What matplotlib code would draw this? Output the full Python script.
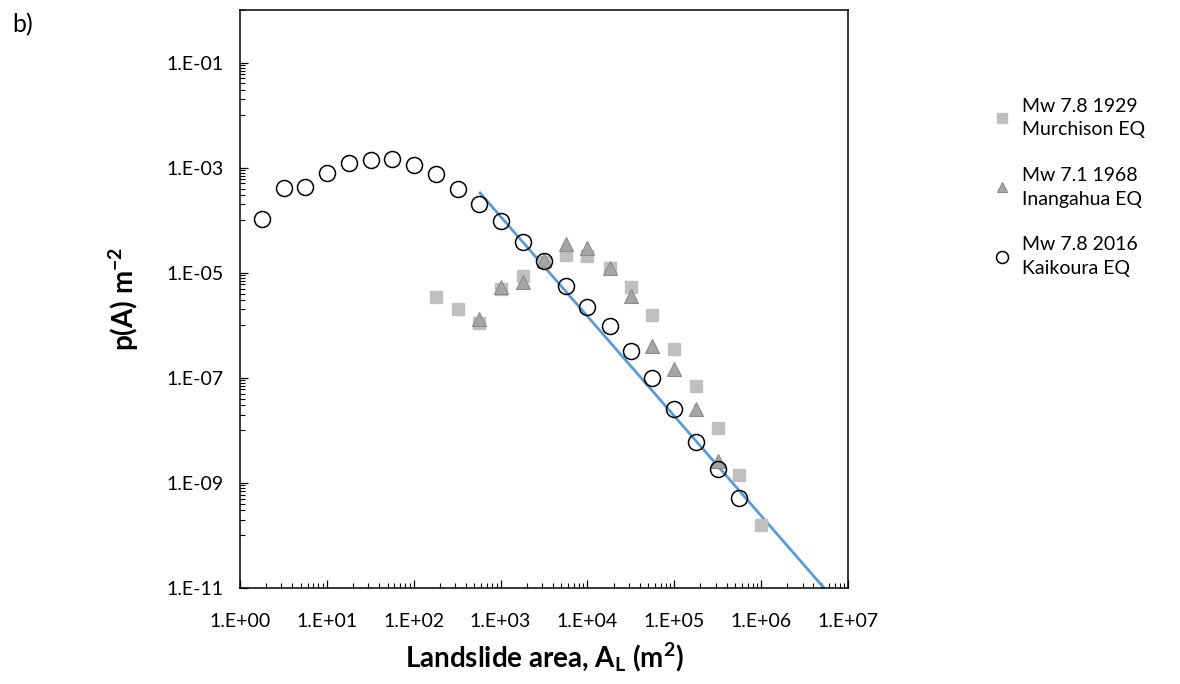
import matplotlib
matplotlib.use("Agg")
import matplotlib.pyplot as plt
from matplotlib.ticker import FixedLocator, FuncFormatter
import numpy as np

plt.rcParams['font.family'] = ['Lato', 'DejaVu Sans']
plt.rcParams['mathtext.fontset'] = 'custom'
plt.rcParams['mathtext.rm'] = 'Lato'
plt.rcParams['mathtext.bf'] = 'Lato:bold'
plt.rcParams['mathtext.it'] = 'Lato:italic'

# --- data -----------------------------------------------------------------
kaikoura_area = [1.8, 3.2, 5.6, 10, 18, 32, 56, 100, 180, 320, 560, 1000, 1800,
                 3200, 5600, 1.0e4, 1.8e4, 3.2e4, 5.6e4, 1.0e5, 1.8e5, 3.2e5, 5.6e5]
kaikoura_p = [1.04e-4, 4.1e-4, 4.25e-4, 8.0e-4, 1.24e-3, 1.37e-3, 1.43e-3, 1.14e-3,
              7.7e-4, 4.0e-4, 2.0e-4, 9.5e-5, 3.9e-5, 1.64e-5, 5.5e-6, 2.2e-6,
              9.7e-7, 3.2e-7, 1.0e-7, 2.5e-8, 5.9e-9, 1.8e-9, 5.1e-10]

murchison_area = [180, 320, 560, 1000, 1800, 3200, 5600, 1.0e4, 1.8e4, 3.2e4,
                  5.6e4, 1.0e5, 1.8e5, 3.2e5, 5.6e5, 1.0e6]
murchison_p = [3.4e-6, 2.0e-6, 1.1e-6, 5.0e-6, 8.6e-6, 1.6e-5, 2.2e-5, 2.1e-5,
               1.25e-5, 5.4e-6, 1.58e-6, 3.55e-7, 7.0e-8, 1.1e-8, 1.4e-9, 1.58e-10]

inangahua_area = [560, 1000, 1800, 3200, 5600, 1.0e4, 1.8e4, 3.2e4, 5.6e4,
                  1.0e5, 1.8e5, 3.2e5]
inangahua_p = [1.34e-6, 5.4e-6, 6.6e-6, 1.73e-5, 3.5e-5, 2.95e-5, 1.25e-5,
               3.55e-6, 4.1e-7, 1.5e-7, 2.6e-8, 2.6e-9]

fit_area = [5.8e2, 5.3e6]
fit_p = [3.3e-4, 1.0e-11]

labels = ["Mw 7.8 1929\nMurchison EQ", "Mw 7.1 1968\nInangahua EQ",
          "Mw 7.8 2016\nKaikoura EQ"]

# --- figure -----------------------------------------------------------------
fig = plt.figure(figsize=(11.8, 6.84), dpi=100)
ax = fig.add_axes([240/1180, 1 - 588/684, (848-240)/1180, (588-10)/684])

ax.set_xscale('log')
ax.set_yscale('log')
ax.set_xlim(1, 1e7)
ax.set_ylim(1e-11, 1)

ax.plot(fit_area, fit_p, color='#5B9BD5', lw=2.0, zorder=2)
h1, = ax.plot(murchison_area, murchison_p, ls='none', marker='s', ms=9,
              mfc='#bfbfbf', mec='#bfbfbf', zorder=3)
h2, = ax.plot(inangahua_area, inangahua_p, ls='none', marker='^', ms=10,
              mfc='#a6a6a6', mec='#8c8c8c', mew=0.8, zorder=4)
h3, = ax.plot(kaikoura_area, kaikoura_p, ls='none', marker='o', ms=11.5,
              mfc='none', mec='black', mew=1.1, zorder=5)

# ticks
ax.xaxis.set_major_locator(FixedLocator([10.0**k for k in range(0, 8)]))
xminor = [m * 10.0**k for k in range(0, 7) for m in range(2, 10)]
ax.xaxis.set_minor_locator(FixedLocator(xminor))
ax.yaxis.set_major_locator(FixedLocator([10.0**k for k in range(-11, 0, 2)]))
yminor = [m * 10.0**k for k in range(-10, 1, 2) for m in range(1, 10)]
yminor = [v for v in yminor if v <= 1.0]
ax.yaxis.set_minor_locator(FixedLocator(yminor))

fmt = FuncFormatter(lambda v, p: "1.E%+03d" % int(round(np.log10(v))))
ax.xaxis.set_major_formatter(fmt)
ax.yaxis.set_major_formatter(fmt)
ax.xaxis.set_minor_formatter(FuncFormatter(lambda v, p: ""))
ax.yaxis.set_minor_formatter(FuncFormatter(lambda v, p: ""))

ax.tick_params(which='major', direction='in', length=6, width=0.9,
               labelsize=14, colors='black')
ax.tick_params(which='minor', direction='in', length=3.5, width=0.8)
ax.tick_params(axis='x', which='major', pad=18)
ax.tick_params(axis='y', which='major', pad=12)
for s in ax.spines.values():
    s.set_linewidth(1.1)
    s.set_color('black')

ax.set_xlabel(r"Landslide area, A$_\mathbf{L}$ (m$^\mathbf{2}$)",
              fontsize=20, fontweight='bold', labelpad=8)
ax.set_ylabel(r"p(A) m$^\mathbf{-2}$", fontsize=20, fontweight='bold',
              labelpad=18)

fig.text(12/1180, 1 - 25/684, "b)", fontsize=18, va='center', ha='left')

leg = fig.legend([h1, h2, h3], labels, loc='upper left',
                 bbox_to_anchor=(975/1180, 1 - 80/684), frameon=False,
                 fontsize=14, labelspacing=1.45, handletextpad=0.5,
                 handlelength=1.0, markerscale=0.75)
for t in leg.get_texts():
    t.set_linespacing(1.5)

fig.savefig("out.png", dpi=100)
